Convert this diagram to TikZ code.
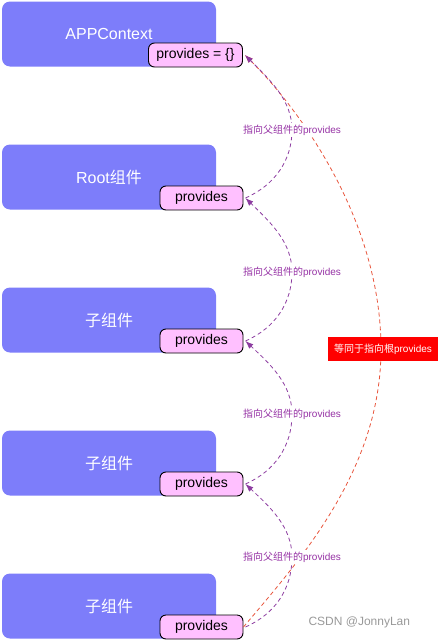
\documentclass[tikz,border=0pt]{standalone}
\usepackage{fontspec}
\setmainfont{Liberation Sans}
\newfontfamily\cjk{Noto Sans CJK SC}
\usetikzlibrary{arrows.meta}
\definecolor{boxblue}{RGB}{125,125,250}
\definecolor{pinkbox}{RGB}{255,192,255}
\definecolor{arrpurple}{RGB}{140,60,160}
\definecolor{lblpurple}{RGB}{150,50,165}
\definecolor{arrred}{RGB}{232,85,60}
\tikzset{
  bigbox/.style={fill=boxblue, rounded corners=8pt, minimum width=214pt, minimum height=65pt, inner sep=0pt, text=white, font=\fontsize{16}{18}\selectfont},
  provbox/.style={draw=black, line width=0.9pt, fill=pinkbox, rounded corners=6pt, minimum height=24pt, inner sep=0pt, font=\fontsize{14}{16}\selectfont},
  parentarrow/.style={draw=arrpurple, dashed, dash pattern=on 4pt off 3pt, line width=0.8pt, -{Latex[length=8pt,width=6pt]}},
  rootarrow/.style={draw=arrred, dashed, dash pattern=on 4pt off 3pt, line width=0.8pt, -{Latex[length=8pt,width=6pt]}},
  plabel/.style={fill=white, text=lblpurple, inner sep=1.5pt, font=\fontsize{10}{12}\selectfont},
  rlabel/.style={fill=red, text=white, minimum width=110pt, minimum height=24pt, inner sep=0pt, font=\fontsize{10}{12}\selectfont},
}
\begin{document}
\begin{tikzpicture}[x=1pt,y=-1pt]
\useasboundingbox (0,0) rectangle (438,640);
% big boxes
\node[bigbox] (b1) at (109,34) {APPContext};
\node[bigbox] (b2) at (109,177) {Root{\cjk 组件}};
\node[bigbox] (b3) at (109,320) {\cjk 子组件};
\node[bigbox] (b4) at (109,463) {\cjk 子组件};
\node[bigbox] (b5) at (109,606) {\cjk 子组件};
% provides boxes
\node[provbox, minimum width=94pt] (p1) at (195.5,55) {provides = \{\}};
\node[provbox, minimum width=83pt] (p2) at (201.5,198) {provides};
\node[provbox, minimum width=83pt] (p3) at (201.5,341) {provides};
\node[provbox, minimum width=83pt] (p4) at (201.5,484) {provides};
\node[provbox, minimum width=83pt] (p5) at (201.5,627) {provides};
% red arrow
\coordinate (rm) at (381,349);
\draw[rootarrow] (p5.east) .. controls (300,560) and (381,470) .. (rm) .. controls (381,220) and (300,110) .. ([xshift=2pt]p1.east);
\node[rlabel] (rl) at (383,349) {{\cjk 等同于指向根}provides};
% purple arrows
\coordinate (m1) at (292,130);
\coordinate (m2) at (292,272);
\coordinate (m3) at (292,414);
\coordinate (m4) at (292,557);
\draw[parentarrow] ([xshift=2pt]p2.east) .. controls (275,185) and (292,160) .. (m1) .. controls (292,100) and (270,80) .. ([xshift=2pt]p1.east);
\draw[parentarrow] ([xshift=2pt]p3.east) .. controls (275,328) and (292,303) .. (m2) .. controls (292,242) and (270,222) .. ([xshift=2pt]p2.east);
\draw[parentarrow] ([xshift=2pt]p4.east) .. controls (275,471) and (292,446) .. (m3) .. controls (292,384) and (270,364) .. ([xshift=2pt]p3.east);
\draw[parentarrow] ([xshift=2pt]p5.east) .. controls (275,614) and (292,589) .. (m4) .. controls (292,527) and (270,507) .. ([xshift=2pt]p4.east);
\node[plabel] (l1) at (m1) {{\cjk 指向父组件的}provides};
\node[plabel] (l2) at (m2) {{\cjk 指向父组件的}provides};
\node[plabel] (l3) at (m3) {{\cjk 指向父组件的}provides};
\node[plabel] (l4) at (m4) {{\cjk 指向父组件的}provides};
% watermark
\node[text=black!40, font=\fontsize{12}{14}\selectfont, anchor=west] (wm) at (305,622) {CSDN @JonnyLan};
\end{tikzpicture}
\end{document}
